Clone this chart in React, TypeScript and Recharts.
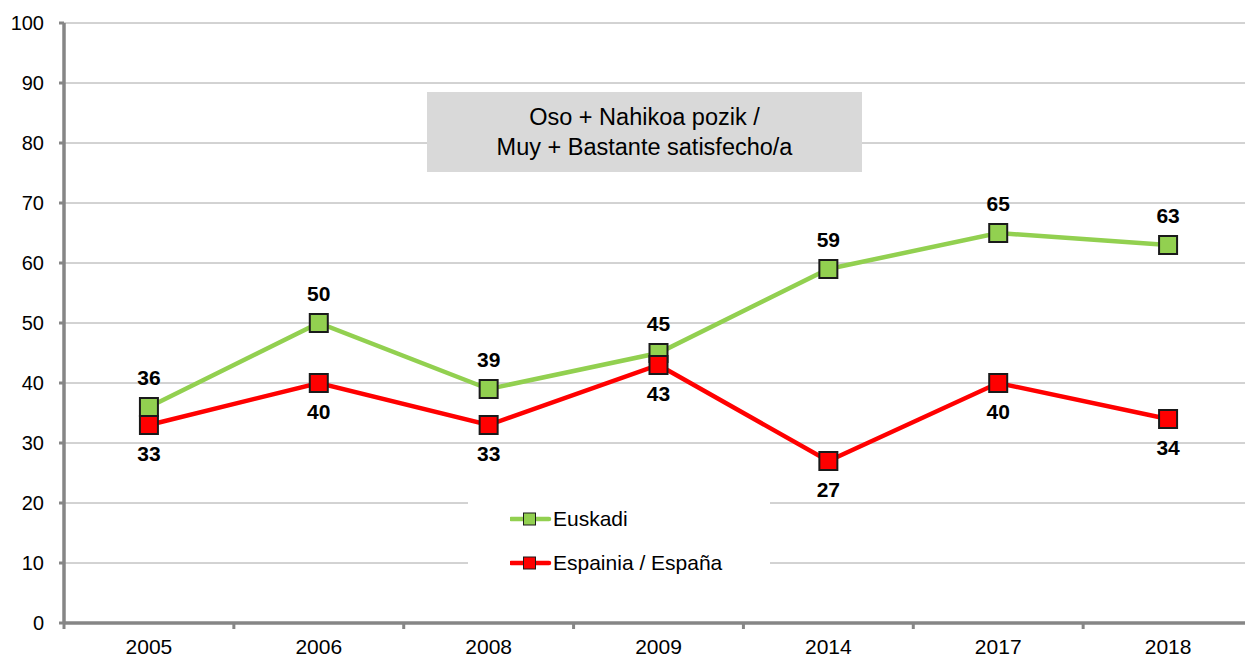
import React from 'react';
import { LineChart, Line, XAxis, YAxis, CartesianGrid, LabelList, Legend } from 'recharts';

const years = ['2005', '2006', '2008', '2009', '2014', '2017', '2018'];
const euskadi = [36, 50, 39, 45, 59, 65, 63];
const espana = [33, 40, 33, 43, 27, 40, 34];
const yTicks = [0, 10, 20, 30, 40, 50, 60, 70, 80, 90, 100];
const seriesList = [
  { key: 'euskadi', name: 'Euskadi', color: '#92D050' },
  { key: 'espana', name: 'Espainia / España', color: '#FF0000' },
];
const titleLines = ['Oso + Nahikoa pozik /', 'Muy + Bastante satisfecho/a'];

const data = years.map((y, i) => ({ year: y, euskadi: euskadi[i], espana: espana[i] }));

const FONT = '"Liberation Sans", Arial, sans-serif';
const W = 1260;
const H = 657;
const margin = { top: 23, right: 7, bottom: 0, left: 0 };
const Y_W = 64;
const X_H = 34;
const plotW = W - margin.left - margin.right - Y_W;
const step = plotW / years.length;
const AXIS = '#868686';

const SquareDot = (props: any) => {
  const { cx, cy, fill } = props;
  if (cx == null || cy == null) return null;
  return (
    <rect x={cx - 9} y={cy - 9} width={18} height={18} fill={fill} stroke="#1a1a1a" strokeWidth={2} />
  );
};

const XTick = (props: any) => {
  const { x, y, payload, index } = props;
  return (
    <g>
      <line x1={x - step / 2} x2={x - step / 2} y1={y} y2={y + 6} stroke={AXIS} strokeWidth={3} />
      {index === years.length - 1 && (
        <line x1={x + step / 2} x2={x + step / 2} y1={y} y2={y + 6} stroke={AXIS} strokeWidth={3} />
      )}
      <text x={x} y={y + 31} textAnchor="middle" fontSize={21} fill="#000" fontFamily={FONT}>
        {payload.value}
      </text>
    </g>
  );
};

const renderLegend = () => (
  <div style={{ paddingTop: 12, paddingLeft: 42, fontFamily: FONT, fontSize: 21, color: '#000' }}>
    {seriesList.map((s) => (
      <div key={s.key} style={{ height: 44, display: 'flex', alignItems: 'center' }}>
        <svg width={42} height={16} style={{ display: 'block' }}>
          <line x1={1} x2={39} y1={8} y2={8} stroke={s.color} strokeWidth={4.5} strokeLinecap="round" />
          <rect x={13.5} y={2} width={12} height={12} fill={s.color} stroke="#1a1a1a" strokeWidth={1} />
        </svg>
        <span style={{ marginLeft: 1 }}>{s.name}</span>
      </div>
    ))}
  </div>
);

export default function App() {
  return (
    <div style={{ position: 'absolute', left: 0, top: 0, width: 1245, height: 657, overflow: 'hidden', background: '#fff' }}>
      <LineChart width={W} height={H} data={data} margin={margin}>
        <CartesianGrid vertical={false} stroke="#a6a6a6" strokeWidth={1} />
        <XAxis
          dataKey="year"
          height={X_H}
          padding={{ left: step / 2, right: step / 2 }}
          axisLine={{ stroke: AXIS, strokeWidth: 3.5 }}
          tickLine={false}
          tickSize={0}
          tickMargin={0}
          interval={0}
          tick={<XTick />}
        />
        <YAxis
          width={Y_W}
          domain={[0, 100]}
          ticks={yTicks}
          interval={0}
          axisLine={{ stroke: AXIS, strokeWidth: 3.5 }}
          tickLine={{ stroke: AXIS, strokeWidth: 3 }}
          tickSize={5}
          tickMargin={15}
          tick={{ fontSize: 20, fill: '#000', fontFamily: FONT }}
        />
        <Legend
          layout="horizontal"
          verticalAlign="middle"
          align="center"
          wrapperStyle={{ left: 468, top: 485, width: 302, height: 95, background: '#fff' }}
          content={renderLegend}
        />
        <Line
          type="linear"
          dataKey="euskadi"
          name="Euskadi"
          stroke="#92D050"
          strokeWidth={4.5}
          fill="#92D050"
          dot={<SquareDot fill="#92D050" />}
          activeDot={false}
          isAnimationActive={false}
        >
          <LabelList dataKey="euskadi" position="top" offset={22} fill="#000" fontSize={21} fontWeight="bold" fontFamily={FONT} />
        </Line>
        <Line
          type="linear"
          dataKey="espana"
          name="Espainia / España"
          stroke="#FF0000"
          strokeWidth={4.5}
          fill="#FF0000"
          dot={<SquareDot fill="#FF0000" />}
          activeDot={false}
          isAnimationActive={false}
        >
          <LabelList dataKey="espana" position="bottom" offset={21} fill="#000" fontSize={21} fontWeight="bold" fontFamily={FONT} />
        </Line>
      </LineChart>
      <div
        style={{
          position: 'absolute',
          left: 427,
          top: 92,
          width: 435,
          height: 80,
          background: '#d9d9d9',
          fontFamily: FONT,
          fontSize: 23.5,
          lineHeight: '30px',
          color: '#000',
          display: 'flex',
          flexDirection: 'column',
          justifyContent: 'center',
          alignItems: 'center',
        }}
      >
        {titleLines.map((t) => (
          <div key={t}>{t}</div>
        ))}
      </div>
    </div>
  );
}
